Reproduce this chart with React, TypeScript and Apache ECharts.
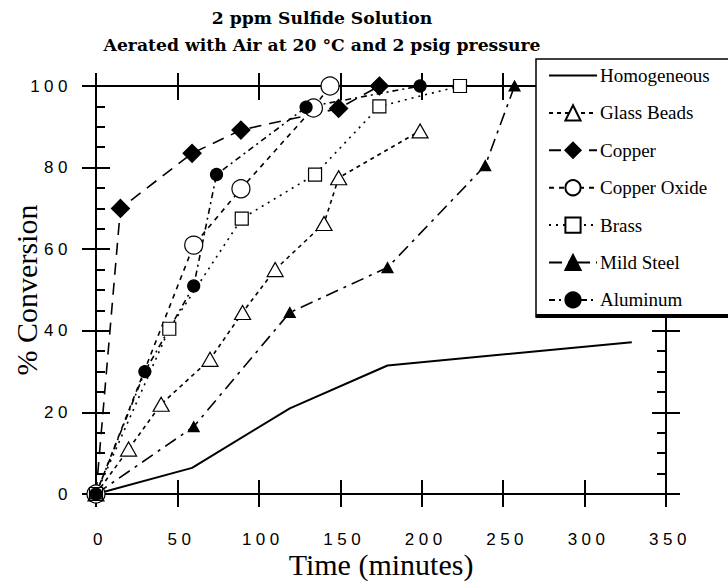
import React, { useEffect, useRef } from "react";
import * as echarts from "echarts";

const titleLine1 = "2 ppm Sulfide Solution";
const titleLine2 = "Aerated with Air at 20 °C and 2 psig pressure";
const xName = "Time (minutes)";
const yName = "% Conversion";

const seriesNames = ["Homogeneous", "Glass Beads", "Copper", "Copper Oxide", "Brass", "Mild Steel", "Aluminum"];

const homogeneous = [[0, 0], [59, 6.4], [119, 21], [179, 31.5], [329, 37.2]];
const glassBeads = [[0, 0], [20, 11], [40, 22], [70, 33], [90, 44.5], [110, 55], [140, 66.3], [149, 77.5], [199, 89]];
const copper = [[0, 0], [15, 70], [59, 83.5], [89, 89.2], [149, 94.5], [174, 100]];
const copperOxide = [[0, 0], [60, 61], [89, 74.8], [133.5, 94.6], [143.7, 100]];
const brass = [[0, 0], [45, 40.5], [89.5, 67.5], [134.5, 78.3], [174, 95], [223.5, 100]];
const mildSteel = [[0, 0], [60, 16.5], [119, 44.5], [179, 55.5], [239, 80.5], [257, 100]];
const aluminum = [[0, 0], [30, 30], [60, 51], [74, 78.3], [129, 94.8], [199, 100]];

const xMin = 0, xMax = 350, xStep = 50;
const yMin = 0, yMax = 100, yStep = 20;

const css = `
#chart-root svg text[style*="Liberation Sans"],
#chart-root svg text[font-family*="Liberation Sans"] { letter-spacing: 4.5px; }
`;

export default function App() {
  const ref = useRef<HTMLDivElement>(null);
  useEffect(() => {
    if (!ref.current) return;
    const chart = echarts.init(ref.current, null, { renderer: "svg" });
    const black = "#000";
    const baseX = (pos: string, inside: boolean, len: number, label: boolean, named: boolean) => ({
      type: "value",
      min: xMin, max: xMax, interval: xStep,
      position: pos,
      axisLine: { show: true, onZero: false, lineStyle: { color: black, width: 2 } },
      axisTick: { show: true, inside, length: len, lineStyle: { color: black, width: 2 } },
      axisLabel: label
        ? { show: true, margin: 37, color: black, fontFamily: "Liberation Sans", fontSize: 17, padding: [0, 0, 0, 8] }
        : { show: false },
      splitLine: { show: false },
      name: named ? xName : "",
      nameLocation: "middle",
      nameGap: 55,
      nameMoveOverlap: false,
      nameTextStyle: { fontFamily: "Liberation Serif", fontSize: 30, color: black },
    });
    const baseY = (pos: string, inside: boolean, len: number, label: boolean, named: boolean, minor: boolean) => ({
      type: "value",
      min: yMin, max: yMax, interval: yStep,
      position: pos,
      axisLine: { show: true, onZero: false, lineStyle: { color: black, width: 2 } },
      axisTick: { show: true, inside, length: len, lineStyle: { color: black, width: 2 } },
      minorTick: { show: minor, splitNumber: 4, length: 9, lineStyle: { color: black, width: 2 } },
      axisLabel: label
        ? { show: true, margin: 24, color: black, fontFamily: "Liberation Sans", fontSize: 17 }
        : { show: false },
      splitLine: { show: false },
      minorSplitLine: { show: false },
      name: named ? yName : "",
      nameLocation: "middle",
      nameGap: 55,
      nameRotate: 90,
      nameMoveOverlap: false,
      nameTextStyle: { fontFamily: "Liberation Serif", fontSize: 30, color: black },
    });

    const mk = (name: string, data: number[][], symbol: string, size: any, filled: boolean, dash: any, width = 1.6) => ({
      name,
      type: "line",
      data,
      xAxisIndex: 0,
      yAxisIndex: 0,
      clip: false,
      symbol,
      symbolSize: size,
      showSymbol: symbol !== "none",
      lineStyle: { color: black, width, type: dash },
      itemStyle: { color: filled ? black : "#fff", borderColor: black, borderWidth: 1.2 },
      z: 3,
    });

    chart.setOption({
      animation: false,
      backgroundColor: "#fff",
      title: {
        text: titleLine1 + "\n" + titleLine2,
        left: 317,
        top: -1,
        textAlign: "center",
        textStyle: { fontFamily: "DejaVu Serif", fontWeight: "bold", fontSize: 17.2, lineHeight: 27, color: black },
      },
      grid: { left: 96, right: 62, top: 86, bottom: 89, containLabel: false, outerBoundsMode: "none" },
      xAxis: [
        baseX("bottom", false, 13, true, true),
        baseX("bottom", true, 14, false, false),
        baseX("top", false, 13, false, false),
        baseX("top", true, 14, false, false),
      ],
      yAxis: [
        baseY("left", false, 14, true, true, false),
        baseY("left", true, 14, false, false, true),
        baseY("right", false, 14, false, false, false),
        baseY("right", true, 14, false, false, true),
      ],
      graphic: [
        { type: "rect", z: 10, shape: { x: 536, y: 59, width: 400, height: 258 }, style: { fill: "#fff", stroke: black, lineWidth: 1.5 } },
        { type: "rect", z: 11, shape: { x: 536, y: 314, width: 400, height: 4 }, style: { fill: black } },
      ],
      legend: {
        z: 20,
        orient: "vertical",
        left: 548,
        top: 66,
        padding: 0,
        itemWidth: 48,
        itemHeight: 19,
        itemGap: 18.4,
        data: [
          { name: seriesNames[0], itemStyle: { opacity: 0 } },
          ...seriesNames.slice(1),
        ],
        textStyle: { fontFamily: "Liberation Serif", fontSize: 19, color: black, padding: [0, 0, 0, -2] },
      },
      series: [
        mk(seriesNames[0], homogeneous, "none", 0, true, "solid", 2),
        mk(seriesNames[1], glassBeads, "triangle", [16, 14], false, [4, 4]),
        mk(seriesNames[2], copper, "diamond", 18, true, [12, 8]),
        mk(seriesNames[3], copperOxide, "circle", 18, false, [5, 5]),
        mk(seriesNames[4], brass, "rect", 13, false, [2, 5]),
        mk(seriesNames[5], mildSteel, "triangle", [11, 10], true, [13, 6, 3, 6]),
        mk(seriesNames[6], aluminum, "circle", 12, true, [6, 4, 2, 4]),
      ],
    });
    return () => chart.dispose();
  }, []);
  return (
    <>
      <style>{css}</style>
      <div id="chart-root" ref={ref} style={{ width: 728, height: 583, position: "absolute", left: 0, top: 0 }} />
    </>
  );
}
